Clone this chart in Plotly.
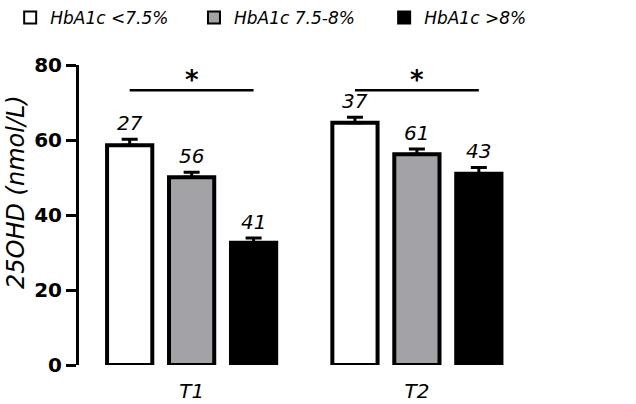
import plotly.graph_objects as go

categories = ["T1", "T2"]
groups = ["HbA1c <7.5%", "HbA1c 7.5-8%", "HbA1c >8%"]
means = {
    "HbA1c <7.5%": [58.6, 64.6],
    "HbA1c 7.5-8%": [50.1, 56.2],
    "HbA1c >8%": [32.6, 51.0],
}
sems = {
    "HbA1c <7.5%": [1.6, 1.5],
    "HbA1c 7.5-8%": [1.3, 1.4],
    "HbA1c >8%": [1.3, 1.7],
}
n_counts = {
    "HbA1c <7.5%": ["27", "37"],
    "HbA1c 7.5-8%": ["56", "61"],
    "HbA1c >8%": ["41", "43"],
}
colors = ["#ffffff", "#a3a2a7", "#000000"]
sig_y = [73.3, 73.3]
sig_text = ["*", "*"]
y_title = "25OHD (nmol/L)"

FONT = "DejaVu Sans"
bargap = 0.175
slot = (1 - bargap) / len(groups)
legend_ids = ["legend", "legend2", "legend3"]
legend_x = [0.016, 0.305, 0.604]

fig = go.Figure()
for gi, g in enumerate(groups):
    fig.add_trace(go.Bar(
        name=g, x=categories, y=means[g], legend=legend_ids[gi],
        marker=dict(color=colors[gi], line=dict(color="black", width=4)),
        error_y=dict(type="data", array=sems[g], arrayminus=[0] * len(categories),
                     symmetric=False, color="black", thickness=3, width=8),
    ))

annotations = []
for gi, g in enumerate(groups):
    off = (gi - (len(groups) - 1) / 2) * slot
    for ci, c in enumerate(categories):
        annotations.append(dict(
            x=ci + off, y=means[g][ci] + sems[g][ci], xref="x", yref="y",
            text="<i>" + n_counts[g][ci] + "</i>", showarrow=False,
            yanchor="bottom", yshift=2, font=dict(family=FONT, size=20, color="black")))

shapes = []
for ci, c in enumerate(categories):
    x0 = ci - slot
    x1 = ci + slot
    shapes.append(dict(type="line", xref="x", yref="y", x0=x0, x1=x1,
                       y0=sig_y[ci], y1=sig_y[ci], line=dict(color="black", width=2.5)))
    annotations.append(dict(x=ci, y=sig_y[ci], xref="x", yref="y", text="<b>" + sig_text[ci] + "</b>",
                            showarrow=False, yanchor="bottom", yshift=-7,
                            font=dict(family=FONT, size=26, color="black")))

annotations.append(dict(x=-0.147, y=0.577, xref="paper", yref="paper", text="<i>" + y_title + "</i>",
                        textangle=-90, showarrow=False, xanchor="center", yanchor="middle",
                        font=dict(family=FONT, size=24, color="black")))

legend_common = dict(orientation="h", y=1.0, xanchor="left", yanchor="top",
                     yref="container", xref="container",
                     font=dict(family=FONT, size=17, color="black", style="italic"),
                     itemsizing="constant", bgcolor="rgba(0,0,0,0)")

fig.update_layout(
    width=636, height=404,
    margin=dict(l=79, r=129, t=65, b=39, autoexpand=False),
    plot_bgcolor="white", paper_bgcolor="white",
    barmode="group", bargap=bargap, bargroupgap=0.27,
    font=dict(family=FONT, color="black"),
    showlegend=True,
    legend=dict(x=legend_x[0], **legend_common),
    legend2=dict(x=legend_x[1], **legend_common),
    legend3=dict(x=legend_x[2], **legend_common),
    annotations=annotations,
    shapes=shapes,
    xaxis=dict(range=[-0.5, 1.4], showline=False, ticks="", showgrid=False, zeroline=False,
               automargin=False,
               tickfont=dict(family=FONT, size=20, color="black", style="italic"),
               ticklabelstandoff=12),
    yaxis=dict(range=[0, 80], dtick=20, showline=True, linewidth=3, linecolor="black",
               ticks="outside", ticklen=10, tickwidth=3, tickcolor="black",
               showgrid=False, zeroline=False, automargin=False,
               tickfont=dict(family=FONT, size=20, color="black", weight="bold")),
)
fig.write_html("out.html", config={"displayModeBar": False},
               post_script="document.body.style.margin='0px';")
